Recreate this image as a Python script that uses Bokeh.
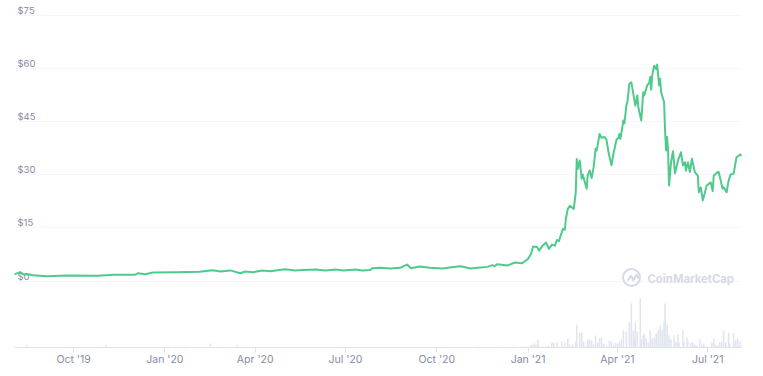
from datetime import datetime, timezone
from bokeh.plotting import figure
from bokeh.models import FixedTicker, Range1d
from bokeh.core.properties import value
from bokeh.embed import file_html
from bokeh.resources import INLINE

# days relative to 2021-01-01
price_days = [-518,-512,-508,-504,-499,-485,-464,-434,-418,-396,-393,-386,-378,-354,-331,-318,-310,-300,-290,-285,-277,-268,-260,-245,-235,-227,-214,-204,-194,-186,-174,-167,-159,-157,-149,-139,-129,-122,-118,-109,-99,-86,-79,-68,-58,-51,-41,-36,-34,-31,-21,-13,-6,0,
 3,5,9,11,14,18,21,24,27,29,31,35,37,38,40,42,46,48,49,50,52,54,55,59,60,62,64,66,68,69,70,72,74,77,79,81,84,86,89,91,92,93,96,97,99,100,102,104,106,108,110,111,114,116,117,120,122,123,124,125,127,129,130,132,133,134,137,138,139,140,141,142,144,146,148,151,154,156,158,159,161,163,165,168,171,172,174,176,180,182,184,186,187,191,192,196,197,200,202,204,207,210,214,216]
price_usd = [1.84,2.5,1.84,1.9,1.65,1.37,1.56,1.46,1.75,1.75,2.2,1.94,2.4,2.5,2.6,3.07,2.7,3.0,2.2,2.68,2.5,2.97,2.78,3.34,2.97,3.15,3.25,2.97,3.25,2.97,3.25,2.97,3.15,3.63,3.72,3.53,3.72,4.66,3.63,4.1,3.72,3.53,3.82,4.19,3.53,3.72,4.0,4.48,4.19,4.76,4.38,5.23,5.04,6.27,
 7.7,9.75,9.6,8.6,9.75,10.9,9.1,10.3,10.0,11.6,11.25,14.7,14.5,17.6,20.4,21.3,20.4,25.1,34.5,31.7,34.1,28.9,30.1,26.1,29.8,31.3,29.1,32.2,37.4,36.9,38.3,41.6,40.5,40.7,39.9,36.4,32.7,36.0,39.9,40.5,41.6,40.2,45.4,44.6,49.6,50.6,55.8,56.2,52.9,49.6,52.5,49.2,45.4,53.4,52.5,55.3,56.0,57.7,54.1,58.1,60.9,60.0,61.2,55.3,57.2,53.4,50.6,42.6,36.9,40.7,36.9,27.0,33.6,36.7,30.5,34.1,36.4,32.7,33.6,31.2,33.6,30.8,34.6,30.8,29.8,25.1,26.5,22.8,27.0,27.5,27.9,25.4,29.8,30.8,30.8,26.1,26.5,25.1,28.4,30.1,30.3,35.0,35.8,35.2]

volume_days = [-505,-425,-365,-355,-345,-320,-293,-50,-30,-15,-5,-2,2,4,6,8,10,12,15,18,21,24,26,29,31,34,37,40,42,45,48,49,52,54,56,59,60,62,64,66,68,70,72,74,76,79,82,84,86,88,90,92,94,96,99,102,104,106,107,108,110,113,114,116,117,119,121,123,125,127,129,131,133,135,137,138,140,142,144,147,149,151,152,156,157,160,161,164,166,168,170,173,175,177,179,181,185,187,189,191,193,195,197,199,202,203,207,209,211,213,215]
volume_bn = [0.4,0.4,0.2,0.2,0.2,0.8,0.4,0.2,0.2,0.2,0.2,0.2,0.4,0.6,0.8,0.6,1.6,0.2,0.2,0.2,0.4,1.0,1.0,1.0,0.2,1.2,1.0,1.8,0.6,0.6,1.2,4.6,2.8,3.0,1.2,0.4,1.6,1.6,1.4,0.6,2.4,1.0,1.8,2.0,0.8,0.4,1.4,1.2,0.4,1.0,0.8,1.2,1.6,3.4,3.2,5.0,8.8,3.4,1.8,5.0,3.2,9.8,1.6,2.4,2.8,1.8,1.0,3.4,1.8,2.0,2.8,3.4,4.4,3.6,5.2,8.8,4.6,2.4,1.6,2.4,1.2,2.6,1.0,3.4,1.2,2.0,1.2,1.0,1.0,0.6,0.4,1.6,0.6,0.8,0.2,0.2,1.0,1.8,0.6,0.4,1.0,1.2,3.4,1.0,3.0,0.8,2.8,1.4,1.8,1.2,1.6]

y_ticks = [0, 15, 30, 45, 60, 75]
y_labels = ["$0", "$15", "$30", "$45", "$60", "$75"]
x_tick_dates = [(2019,10,1),(2020,1,1),(2020,4,1),(2020,7,1),(2020,10,1),(2021,1,1),(2021,4,1),(2021,7,1)]
x_tick_labels = ["Oct '19","Jan '20","Apr '20","Jul '20","Oct '20","Jan '21","Apr '21","Jul '21"]

BASE = datetime(2021, 1, 1)
def ms(dt):
    return dt.replace(tzinfo=timezone.utc).timestamp() * 1000.0
DAY = 86400000.0
price_x = [ms(BASE) + d * DAY for d in price_days]
vol_x = [ms(BASE) + d * DAY for d in volume_days]
tick_ms = [ms(datetime(*d)) for d in x_tick_dates]

X0 = ms(datetime(2019, 8, 2, 12))
X1 = ms(datetime(2021, 8, 4))
Y0, Y1 = -18.8, 78.48

TEXT = "#858ca2"
p = figure(width=755, height=368, output_backend="svg", toolbar_location=None,
           x_axis_type="datetime", x_range=Range1d(X0, X1), y_range=Range1d(Y0, Y1),
           min_border_left=14, min_border_right=14, min_border_top=3, min_border_bottom=21,
           outline_line_color=None, background_fill_color="white", border_fill_color="white")
p.extra_y_ranges = {"vol": Range1d(0, 68.8)}

p.xgrid.visible = False
p.yaxis.visible = False
p.ygrid.ticker = FixedTicker(ticks=y_ticks)
p.ygrid.grid_line_color = "#f6f6f8"
p.ygrid.grid_line_width = 1

ax = p.xaxis[0]
ax.ticker = FixedTicker(ticks=tick_ms)
ax.major_label_overrides = {t: l for t, l in zip(tick_ms, x_tick_labels)}
ax.major_tick_out = 5
ax.major_tick_in = 0
ax.minor_tick_out = 0
ax.minor_tick_in = 0
ax.major_label_standoff = 0
ax.axis_line_color = "#dfe3ee"
ax.major_tick_line_color = "#dfe3ee"
ax.major_label_text_color = TEXT
ax.major_label_text_font = "Inter"
ax.major_label_text_font_size = "10.5px"

p.vbar(x=vol_x, top=volume_bn, bottom=0, width=1.6 * DAY, y_range_name="vol",
       fill_color="#e1e5ef", line_color=None)

p.text(x=[X0] * len(y_ticks), y=y_ticks, text=y_labels, x_offset=3, y_offset=-5,
       text_align="left", text_baseline="middle", text_color=TEXT,
       text_font=value("Inter"), text_font_size="9.5px")

# watermark: placed in page pixels, converted through the plot's own scales
FW, FH = 727.0, 344.0
def wx(px):
    return X0 + (px - 14) / FW * (X1 - X0)
def wy(py):
    return Y0 + (347 - py) / FH * (Y1 - Y0)
WM = "#d6dae7"
p.scatter(x=[wx(631)], y=[wy(277)], size=17, fill_color=None, line_color=WM, line_width=2)
logo_px = [627.3, 630.5, 632.8, 636, 638]
logo_py = [280, 275, 280, 274, 278]
p.line(x=[wx(a) for a in logo_px], y=[wy(b) for b in logo_py], line_color=WM, line_width=2)
p.text(x=[wx(647)], y=[wy(278)], text=["CoinMarketCap"], text_align="left", text_baseline="middle",
       text_color=WM, text_font=value("Inter"), text_font_size="11.3px", text_font_style="bold")

p.line(x=price_x, y=price_usd, line_color="#4fca8c", line_width=2, line_join="round")

open("out.html", "w").write(file_html(p, INLINE))
